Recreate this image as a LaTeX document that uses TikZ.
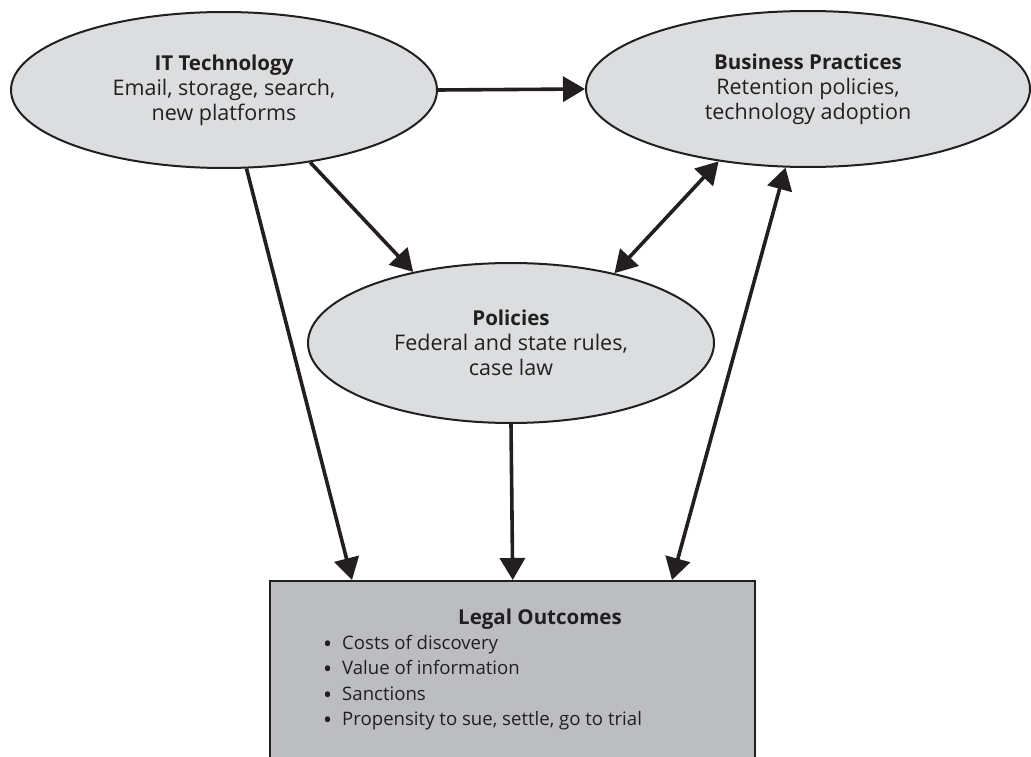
\documentclass[tikz,border=0pt]{standalone}
\usepackage{fontspec}
\setmainfont{Open Sans}
\usetikzlibrary{shapes.geometric,arrows.meta,calc}
\definecolor{ink}{HTML}{231F20}
\definecolor{ellfill}{HTML}{DCDDDE}
\definecolor{boxfill}{HTML}{BCBDC0}
\newcommand{\elltitle}[1]{{\fontsize{20.5}{25}\selectfont\bfseries #1}}
\newcommand{\bul}{\makebox[19pt][l]{\raisebox{-3pt}{\fontsize{24}{25.5}\selectfont\textbullet}}}
\tikzset{
  ell/.style={ellipse, draw=ink, line width=2pt, fill=ellfill, inner sep=0pt, align=center,
    font=\fontsize{21.5}{25}\selectfont, text=ink},
  conn/.style={draw=ink, line width=3.6pt, -{Triangle[length=22pt,width=25pt]}},
  biconn/.style={draw=ink, line width=3.6pt, {Triangle[length=22pt,width=25pt]}-{Triangle[length=22pt,width=25pt]}},
  txt/.style={font=\fontsize{18.6}{25.5}\selectfont, text=ink, inner sep=0pt},
}
\begin{document}
\begin{tikzpicture}[x=1pt,y=-1pt]
\useasboundingbox (0,0) rectangle (1031,757);
\clip (0,0) rectangle (1031,757);
\node[ell, minimum width=426pt, minimum height=156pt] (it) at (224,90)
  {\elltitle{IT Technology}\\Email, storage, search,\\new platforms};
\node[ell, minimum width=444pt, minimum height=156pt] (bp) at (808,89)
  {\elltitle{Business Practices}\\Retention policies,\\technology adoption};
\node[ell, minimum width=406pt, minimum height=160pt] (pol) at (511,343)
  {\elltitle{Policies}\\Federal and state rules,\\case law};
\node[draw=ink, line width=2.4pt, fill=boxfill, anchor=north west, minimum width=485pt,
  minimum height=240pt, inner sep=0pt] (legal) at (269,580) {};
\node[txt, font=\fontsize{20.5}{25.5}\selectfont\bfseries] (lt) at (540,619) {Legal Outcomes};
\node[txt, anchor=north west, align=left] (ll) at (323,635)
  {\bul Costs of discovery\\\bul Value of information\\\bul Sanctions\\\bul Propensity to sue, settle, go to trial};
\draw[conn] (it.east) -- (bp.west);
\draw[conn] (it.-40.4) -- (pol.144.6);
\draw[conn] (it.-74.4) -- ($(legal.north west)+(83,0)$);
\draw[conn] (pol.south) -- (legal.north);
\draw[biconn] (pol.34.8) -- (bp.-141.5);
\draw[biconn] ($(legal.north west)+(403,0)$) -- (bp.-106.5);
\end{tikzpicture}
\end{document}
